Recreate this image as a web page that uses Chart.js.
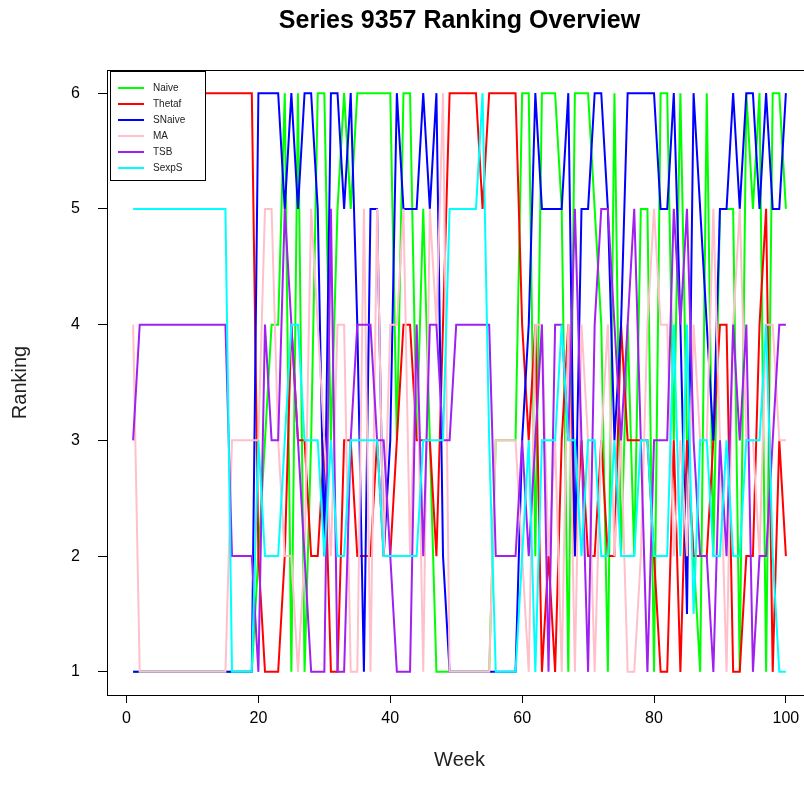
<!DOCTYPE html>
<html>
<head>
<meta charset="utf-8">
<script src="https://cdn.jsdelivr.net/npm/chart.js@4.4.1/dist/chart.umd.min.js"></script>
<style>
html, body { margin: 0; padding: 0; background: #fff; overflow: hidden; }
#wrap { width: 804px; height: 798px; overflow: hidden; }
canvas { display: block; }
</style>
</head>
<body>
<div id="wrap"><canvas id="rankChart" width="820" height="798"></canvas></div>
<script>
var weeks = [];
for (var w = 1; w <= 100; w++) weeks.push(w);

var naive = [1,1,1,1,1,1,1,1,1,1, 1,1,1,1,1,1,1,1,1,2, 3,4,4,6,1,6,1,3,6,6, 3,5,6,5,6,6,6,6,6,6,
             3,6,6,3,5,3,1,1,1,1, 1,1,1,1,1,3,3,3,3,6, 6,2,6,6,6,5,1,6,6,6, 5,4,1,6,2,4,2,5,5,1,
             6,6,3,6,3,2,1,6,2,5, 5,5,1,6,5,6,1,6,6,5];
var thetaf = [6,6,6,6,6,6,6,6,6,6, 6,6,6,6,6,6,6,6,6,2, 1,1,1,2,4,3,3,2,2,3, 1,1,3,3,2,2,2,3,2,2,
              3,4,4,3,3,3,2,4,6,6, 6,6,6,5,6,6,6,6,6,4, 3,4,1,2,1,3,4,2,3,2, 2,3,2,2,4,3,3,3,3,2,
              1,1,3,1,3,2,2,2,3,4, 4,1,1,2,2,4,5,1,3,2];
var snaive = [1,1,1,1,1,1,1,1,1,1, 1,1,1,1,1,1,1,1,1,6, 6,6,6,5,6,5,6,6,5,2, 6,6,5,6,4,1,5,5,2,3,
              6,5,5,5,6,5,6,2,1,1, 1,1,1,1,1,1,1,1,1,3, 4,6,5,5,5,5,6,2,5,5, 6,6,5,3,4,6,6,6,6,6,
              5,5,6,4,1.5,6,5,4,3,5, 5,6,5,6,6,5,6,5,5,6];
var ma = [4,1,1,1,1,1,1,1,1,1, 1,1,1,1,1,3,3,3,3,3, 5,5,3,2,2,1,2,5,4,3, 2,4,4,1,1,5,1,5,2,4,
          4,5,2,4,1,5,4,6,1,1, 1,1,1,1,1,3,3,3,3,2, 1,4,4,2,3,1,4,1,4,3, 1,3,4,2,3,1,1,2,4,5,
          4,4,2,3,2,4,3,3,5,3, 1,4,5,3,3,2,4,4,3,3];
var tsb = [3,4,4,4,4,4,4,4,4,4, 4,4,4,4,4,2,2,2,2,1, 4,3,3,5,4,3,2,1,1,1, 5,1,1,3,4,4,4,3,3,2,
           1,1,1,4,2,4,4,3,3,4, 4,4,4,4,4,2,2,2,2,3, 2,3,4,1,4,4,3,5,3,1, 4,5,5,4,3,4,5,3,1,3,
           3,3,5,4,5,3,2,2,1,3, 2,4,3,4,1,2,2,3,4,4];
var sexps = [5,5,5,5,5,5,5,5,5,5, 5,5,5,5,5,1,1,1,1,3, 2,2,2,3,4,4,3,3,3,2, 3,2,2,3,3,3,3,3,2,2,
             2,2,2,2,3,3,3,3,5,5, 5,5,5,6,3,1,1,1,1,2, 3,1,3,3,3,4,3,3,2,3, 3,2,2,3,2,2,2,3,3,2,
             2,2,4,2,4,1.5,3,3,2,2, 3,2,2,3,3,3,4,2,1,1];

var seriesNames = ["Naive", "Thetaf", "SNaive", "MA", "TSB", "SexpS"];
var seriesColors = ["#00ff00", "#ff0000", "#0000ff", "#ffc0cb", "#a020f0", "#00ffff"];
var xTicks = [0, 20, 40, 60, 80, 100];
var yTicks = [1, 2, 3, 4, 5, 6];

function toPoints(values) {
    return values.map(function (v, i) { return {x: weeks[i], y: v}; });
}

var allSeries = [naive, thetaf, snaive, ma, tsb, sexps];
var datasets = [];
for (var i = 0; i < allSeries.length; i++) {
    datasets.push({
        label: seriesNames[i],
        data: toPoints(allSeries[i]),
        borderColor: seriesColors[i],
        backgroundColor: seriesColors[i],
        borderWidth: 2,
        pointRadius: 0,
        tension: 0,
        fill: false,
        // first series at the bottom, last one on top (like R's lines())
        order: allSeries.length - i
    });
}

// plot frame + R style legend in the top left corner
var frameAndLegend = {
    id: 'frameAndLegend',
    afterDatasetsDraw: function (chart) {
        var ctx = chart.ctx;
        var a = chart.chartArea;
        ctx.save();
        ctx.strokeStyle = '#000';
        ctx.lineWidth = 1;

        var lx = a.left + 3, ly = a.top + 1, lw = 95, lh = 109;
        ctx.fillStyle = '#fff';
        ctx.fillRect(lx, ly, lw, lh);
        ctx.strokeRect(lx + 0.5, ly + 0.5, lw, lh);

        ctx.font = '10px "Liberation Sans", Arial, sans-serif';
        ctx.textBaseline = 'middle';
        for (var k = 0; k < seriesNames.length; k++) {
            var rowY = ly + 17 + k * 16;
            ctx.strokeStyle = seriesColors[k];
            ctx.lineWidth = 2;
            ctx.beginPath();
            ctx.moveTo(lx + 8, rowY);
            ctx.lineTo(lx + 34, rowY);
            ctx.stroke();
            ctx.fillStyle = '#222';
            ctx.fillText(seriesNames[k], lx + 43, rowY);
        }

        ctx.strokeStyle = '#000';
        ctx.lineWidth = 1;
        ctx.strokeRect(Math.round(a.left) + 0.5, Math.round(a.top) + 0.5,
                       Math.round(a.right - a.left), Math.round(a.bottom - a.top));
        ctx.restore();
    }
};

var fontFam = '"Liberation Sans", Arial, sans-serif';

new Chart(document.getElementById('rankChart'), {
    type: 'line',
    data: {datasets: datasets},
    plugins: [frameAndLegend],
    options: {
        responsive: false,
        animation: false,
        devicePixelRatio: 1,
        layout: {padding: {left: 0, right: 8, top: 0, bottom: 0}},
        plugins: {
            legend: {display: false},
            tooltip: {enabled: false},
            title: {
                display: true,
                text: 'Series 9357 Ranking Overview',
                fullSize: false,
                color: '#000',
                font: {family: fontFam, size: 25, weight: 'bold', lineHeight: 1.2},
                padding: {top: 6, bottom: 34}
            }
        },
        scales: {
            x: {
                type: 'linear',
                min: -2.96,
                max: 103.96,
                afterBuildTicks: function (scale) {
                    scale.ticks = xTicks.map(function (v) { return {value: v}; });
                },
                afterFit: function (scale) { scale.height = 103; },
                grid: {display: true, drawOnChartArea: false, drawTicks: true, tickLength: 8, color: '#000'},
                border: {display: false},
                ticks: {color: '#000', padding: 6, maxRotation: 0, font: {family: fontFam, size: 16}},
                title: {
                    display: true, text: 'Week', color: '#222',
                    font: {family: fontFam, size: 20},
                    padding: {top: 0, bottom: 26}
                }
            },
            y: {
                type: 'linear',
                min: 0.8,
                max: 6.2,
                afterBuildTicks: function (scale) {
                    scale.ticks = yTicks.map(function (v) { return {value: v}; });
                },
                afterFit: function (scale) { scale.width = 107; },
                grid: {display: true, drawOnChartArea: false, drawTicks: true, tickLength: 9, color: '#000'},
                border: {display: false},
                ticks: {color: '#000', padding: 18, font: {family: fontFam, size: 16}},
                title: {
                    display: true, text: 'Ranking', color: '#222',
                    font: {family: fontFam, size: 20},
                    padding: {top: 8, bottom: 0}
                }
            }
        }
    }
});
</script>
</body>
</html>
